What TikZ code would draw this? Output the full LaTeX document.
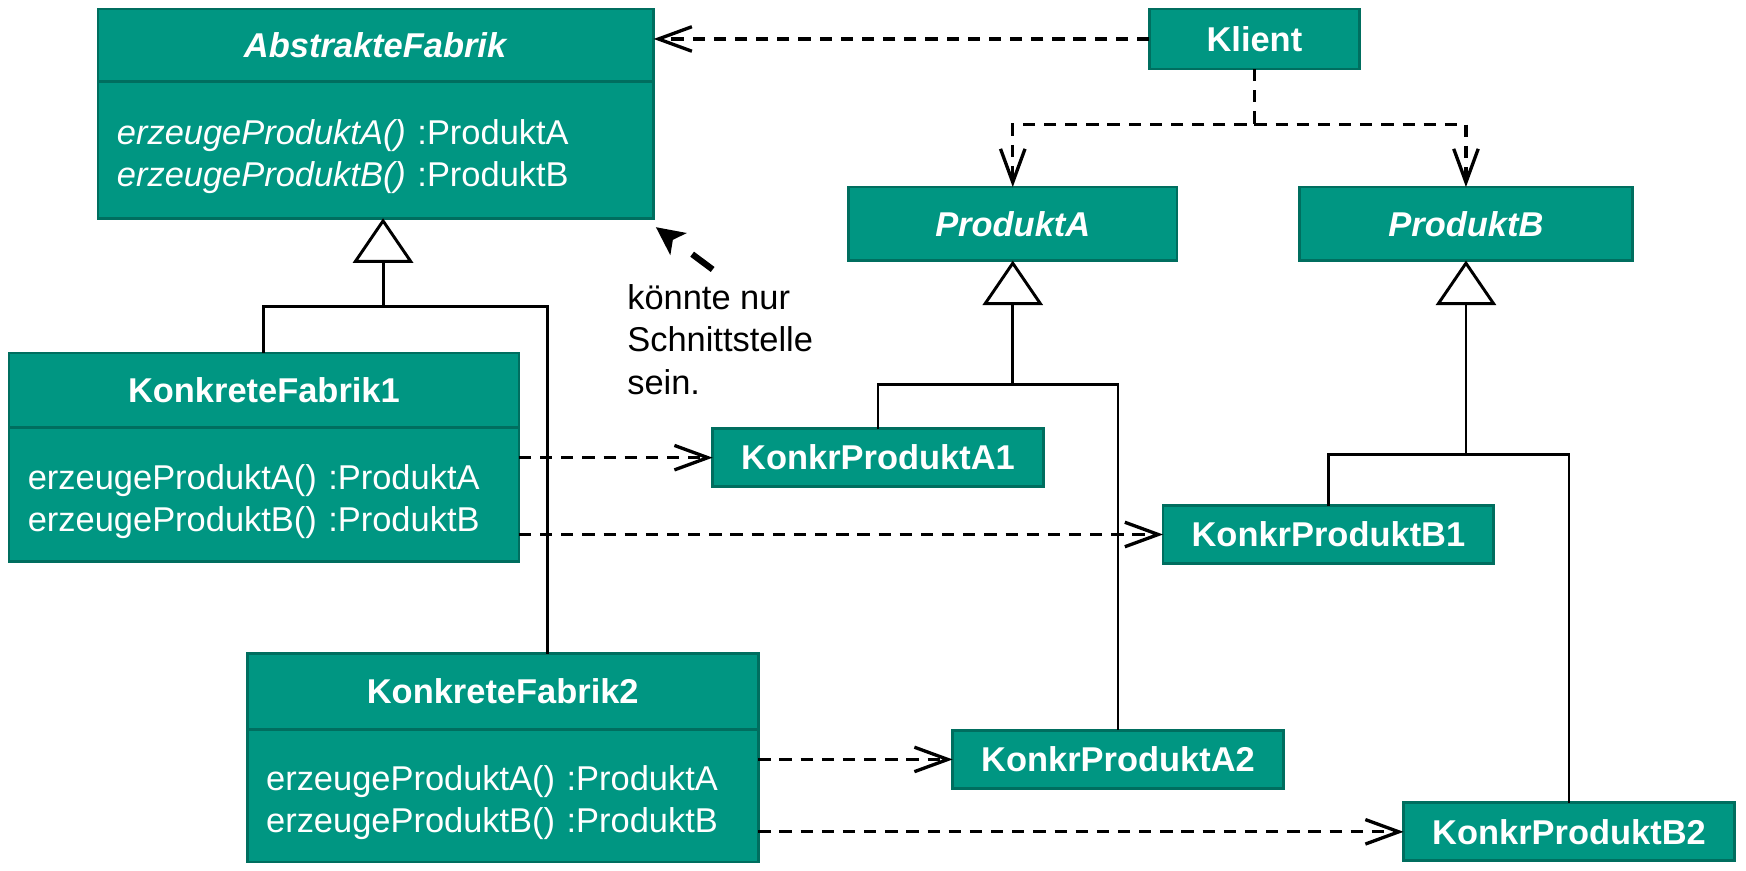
\documentclass[tikz,border=0pt]{standalone}
\usepackage{fontspec}
\setmainfont{Liberation Sans}
\usetikzlibrary{arrows.meta,positioning,calc}
\definecolor{kitgreen}{RGB}{0,150,130}
\definecolor{kitdark}{RGB}{0,110,95}

\begin{document}
\begin{tikzpicture}[
  cls/.style={draw=kitdark, line width=1.4pt, fill=kitgreen, text=white, inner sep=0pt, outer sep=0pt, font=\fontsize{17.6}{21.5}\selectfont\bfseries},
  ops/.style={cls, font=\fontsize{17.6}{21.5}\selectfont, align=left, inner xsep=0.34cm, execute at begin node={\rule{0pt}{20pt}}},
  prod/.style={cls, minimum width=5.94cm, minimum height=1.04cm},
  dep/.style={line width=1.7pt, dash pattern=on 0.22cm off 0.16cm, -{Straight Barb[length=0.6cm, width=0.44cm]}},
  gen/.style={line width=1.5pt, -{Triangle[open, length=0.8cm, width=1.08cm]}},
  link/.style={line width=1.5pt},
  hint/.style={line width=3.2pt, dash pattern=on 0.46cm off 0.5cm, -{Stealth[length=0.5cm, width=0.48cm, inset=0.12cm]}}]
  \useasboundingbox (0,0) rectangle (31.36,-15.64);
  % classes
  \node[cls, minimum width=9.98cm, minimum height=1.30cm] (afhead) at (6.75,-0.81) {\textit{AbstrakteFabrik}};
  \node[ops, below=0pt of afhead, text width=9.30cm, minimum height=2.46cm] (afops)
    {\textit{erzeugeProduktA()} :ProduktA\\\textit{erzeugeProduktB()} :ProduktB};
  \node[cls, minimum width=3.78cm, minimum height=1.08cm] (kl) at (22.53,-0.70) {Klient};
  \node[cls, minimum width=5.90cm, minimum height=1.32cm] (pa) at (18.19,-4.02) {\textit{ProduktA}};
  \node[cls, minimum width=5.98cm, minimum height=1.32cm] (pb) at (26.33,-4.02) {\textit{ProduktB}};
  \node[cls, minimum width=9.16cm, minimum height=1.34cm] (kf1head) at (4.74,-7.01) {KonkreteFabrik1};
  \node[ops, below=0pt of kf1head, text width=8.48cm, minimum height=2.40cm] (kf1ops)
    {erzeugeProduktA() :ProduktA\\erzeugeProduktB() :ProduktB};
  \node[cls, minimum width=9.18cm, minimum height=1.36cm] (kf2head) at (9.03,-12.42) {KonkreteFabrik2};
  \node[ops, below=0pt of kf2head, text width=8.50cm, minimum height=2.38cm] (kf2ops)
    {erzeugeProduktA() :ProduktA\\erzeugeProduktB() :ProduktB};
  \foreach \name/\x/\y/\txt in {kpa1/15.77/-8.22/KonkrProduktA1, kpa2/20.08/-13.64/KonkrProduktA2,
      kpb1/23.86/-9.60/KonkrProduktB1, kpb2/28.18/-14.94/KonkrProduktB2}
    \node[prod] (\name) at (\x,\y) {\txt};
  % inheritance
  \coordinate (afj) at (6.88,-5.50);
  \draw[gen] (afj) -- (afops.south -| afj);
  \draw[link] (kf1head.north) |- (afj) -| ([xshift=0.81cm]kf2head.north);
  \foreach \top/\yy/\l/\r in {pa/-6.90/kpa1/kpa2, pb/-8.16/kpb1/kpb2} {
    \draw[gen] (\top.south |- 0,\yy) -- (\top.south);
    \draw[link] (\l.north) |- (\top.south |- 0,\yy) -| (\r.north);
  }
  % dependencies
  \draw[dep] (kl.west) -- (kl.west -| afhead.east);
  \coordinate (klj) at (kl.south |- 0,-2.24);
  \draw[dep] (kl.south) -- (klj) -| (pa.north);
  \draw[dep] (klj) -| (pb.north);
  \foreach \src/\dst in {kf1ops/kpa1, kf1ops/kpb1, kf2ops/kpa2, kf2ops/kpb2}
    \draw[dep] (\src.east |- \dst.west) -- (\dst.west);
  % note
  \node[anchor=north west, align=left, inner sep=0pt, font=\fontsize{17.6}{21.5}\selectfont] (note) at (11.26,-5.11)
    {könnte nur\\Schnittstelle\\sein.};
  \coordinate (notetail) at (12.80,-4.84);
  \draw[hint] (notetail) -- ([shift={(0.04,-0.16)}]afops.south east);
\end{tikzpicture}
\end{document}
